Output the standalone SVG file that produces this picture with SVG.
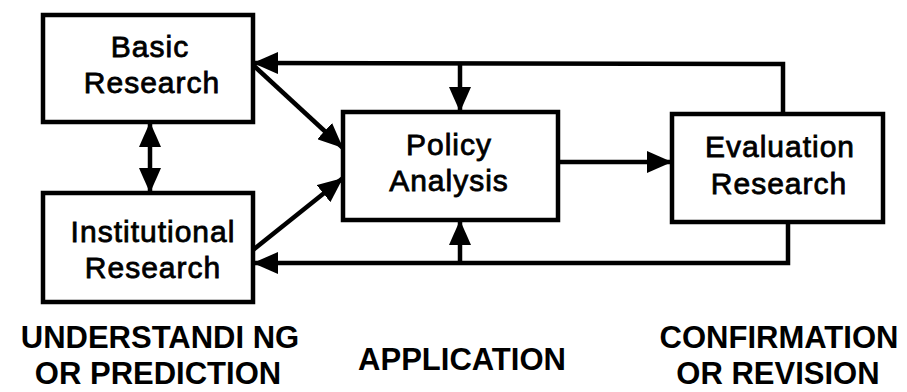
<svg xmlns="http://www.w3.org/2000/svg" width="907" height="392" viewBox="0 0 907 392">
  <style>
    .box { fill: #ffffff; stroke: #000000; stroke-width: 4.5; }
    .lbl { font-family: "Liberation Sans", Arial, sans-serif; font-size: 30px; letter-spacing: 1px; fill: #000000; stroke: #000000; stroke-width: 0.8; text-anchor: middle; }
    .cap { font-family: "Liberation Sans", Arial, sans-serif; font-size: 31px; font-weight: bold; fill: #000000; text-anchor: middle; }
    .conn { fill: none; stroke: #000000; stroke-width: 4.5; stroke-linejoin: miter; }
  </style>
  <defs>
    <marker id="ah" markerUnits="userSpaceOnUse" markerWidth="25" markerHeight="22" refX="25" refY="11" orient="auto-start-reverse" viewBox="0 0 25 22">
      <path d="M0,0 L25,11 L0,22 z" fill="#000000"/>
    </marker>
  </defs>
  <rect width="907" height="392" fill="#ffffff"/>

  <g id="connectors">
    <line class="conn" x1="150" y1="122" x2="150" y2="193" marker-start="url(#ah)" marker-end="url(#ah)"/>
    <line class="conn" x1="253" y1="65" x2="343" y2="148" marker-end="url(#ah)"/>
    <line class="conn" x1="253" y1="250" x2="343" y2="178" marker-end="url(#ah)"/>
    <line class="conn" x1="558" y1="162" x2="672" y2="162" marker-end="url(#ah)"/>
    <polyline class="conn" points="783,114 783,64 253,63" marker-end="url(#ah)"/>
    <line class="conn" x1="460" y1="63" x2="460" y2="112" marker-end="url(#ah)"/>
    <polyline class="conn" points="788,222 788,263 253,263" marker-end="url(#ah)"/>
    <line class="conn" x1="460" y1="263" x2="460" y2="220" marker-end="url(#ah)"/>
  </g>

  <g id="basic-research">
    <rect class="box" x="43" y="15" width="210" height="107"/>
    <text class="lbl" x="150" y="57">Basic</text>
    <text class="lbl" x="152" y="93">Research</text>
  </g>

  <g id="institutional-research">
    <rect class="box" x="43" y="193" width="210" height="109"/>
    <text class="lbl" x="153" y="242">Institutional</text>
    <text class="lbl" x="153" y="278">Research</text>
  </g>

  <g id="policy-analysis">
    <rect class="box" x="343" y="112" width="215" height="108"/>
    <text class="lbl" x="449" y="155">Policy</text>
    <text class="lbl" x="449" y="191">Analysis</text>
  </g>

  <g id="evaluation-research">
    <rect class="box" x="672" y="114" width="211" height="108"/>
    <text class="lbl" x="780" y="157">Evaluation</text>
    <text class="lbl" x="779" y="194">Research</text>
  </g>

  <g id="captions">
    <text class="cap" x="160" y="348">UNDERSTANDI NG</text>
    <text class="cap" x="158" y="384">OR PREDICTION</text>
    <text class="cap" x="462" y="370">APPLICATION</text>
    <text class="cap" x="779" y="348">CONFIRMATION</text>
    <text class="cap" x="778" y="384">OR REVISION</text>
  </g>
</svg>
